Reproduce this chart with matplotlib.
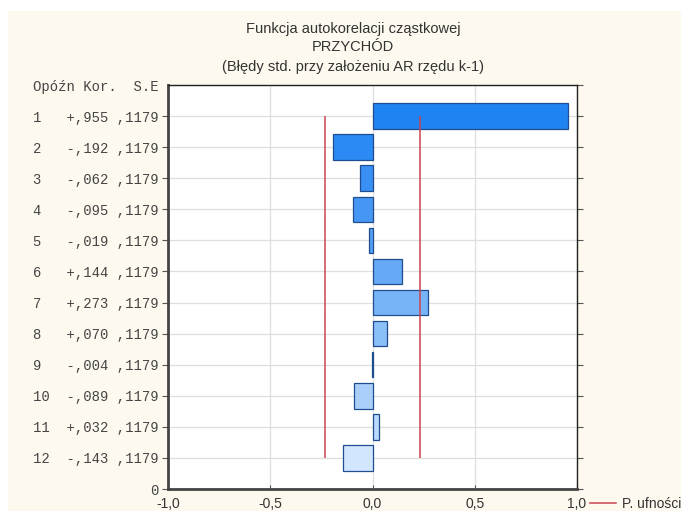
import numpy as np
import matplotlib.pyplot as plt
from matplotlib.patches import Rectangle
from matplotlib.lines import Line2D

# partial autocorrelation values
lags = [1, 2, 3, 4, 5, 6, 7, 8, 9, 10, 11, 12]
pacf = [0.955, -0.192, -0.062, -0.095, -0.019, 0.144, 0.273, 0.070, -0.004, -0.089, 0.032, -0.143]
se = [0.1179] * 12
bar_colors = ['#1f83f2', '#2b8af3', '#3890f4', '#4697f4', '#55a0f5', '#66aaf6',
              '#77b4f7', '#8bbff8', '#2a5da0', '#a9cffa', '#bad9fb', '#d2e7fd']

plt.rcParams['font.family'] = ['Liberation Sans', 'DejaVu Sans']

fig = plt.figure(figsize=(6.81, 5.11), dpi=100, facecolor='white')
fig.patches.append(Rectangle((8 / 681, 0), 1, 1 - 11 / 511, transform=fig.transFigure,
                             facecolor='#fdf9ee', edgecolor='none', zorder=-10))

ax = fig.add_axes([168 / 681, 1 - 489 / 511, 409 / 681, 404 / 511])
ax.set_facecolor('white')

ypos = [13 - l for l in lags]
ax.barh(ypos, pacf, height=0.82, color=bar_colors, edgecolor='#1f4d8f', linewidth=0.9, zorder=3)

lim = 1.96 * se[0]
ax.vlines([-lim, lim], 13 - lags[0], 13 - lags[-1], color='#c8454f', linewidth=1.1, zorder=4)

ax.set_xlim(-1, 1)
ax.set_ylim(0, 13)

# tick labels: lag, coefficient, std. error
def fmt(v):
    s = '+' if v >= 0 else '-'
    return s + ('%.3f' % abs(v))[1:].replace('.', ',')

labels = ['0'] + ['%-4s%s ,%s' % (l, fmt(v), str(e)[2:]) for l, v, e in zip(lags, pacf, se)][::-1]
labels.append('Opóźn Kor.  S.E')
ax.set_yticks(range(0, 14))
ax.set_yticklabels(labels, family=['Liberation Mono', 'DejaVu Sans Mono'], fontsize=10, color='#454545')
ax.yaxis.get_major_ticks()[-1].tick1line.set_visible(False)
ax.yaxis.get_major_ticks()[-1].tick2line.set_visible(False)
ax.tick_params(axis='y', direction='out', length=4, pad=3, right=True, color='#555555')

xt = [-1.0, -0.5, 0.0, 0.5, 1.0]
ax.set_xticks(xt)
ax.set_xticklabels([('%.1f' % v).replace('.', ',') for v in xt], fontsize=10, color='#333333')
ax.tick_params(axis='x', direction='in', length=3, pad=6, color='#555555')

ax.grid(True, color='#dedede', linewidth=0.9, zorder=0)
ax.set_axisbelow(True)
for side in ['left', 'bottom']:
    ax.spines[side].set_linewidth(2)
    ax.spines[side].set_color('#444444')
for side in ['top', 'right']:
    ax.spines[side].set_linewidth(1)
    ax.spines[side].set_color('#222222')

title_kw = dict(ha='center', va='center', fontsize=10.5, color='#333333')
fig.text(353 / 681, 1 - 29 / 511, 'Funkcja autokorelacji cząstkowej', **title_kw)
fig.text(353 / 681, 1 - 47 / 511, 'PRZYCHÓD', **title_kw)
fig.text(353 / 681, 1 - 67 / 511, '(Błędy std. przy założeniu AR rzędu k-1)', **title_kw)

handle = Line2D([], [], color='#c8454f', linewidth=1.1)
fig.legend([handle], ['P. ufności'], loc='center left', bbox_to_anchor=(590 / 681, 1 - 504 / 511),
           frameon=False, handlelength=1.9, handletextpad=0.4, borderaxespad=0, borderpad=0,
           fontsize=10, labelcolor='#333333')

fig.savefig('out.png', dpi=100, facecolor=fig.get_facecolor())
